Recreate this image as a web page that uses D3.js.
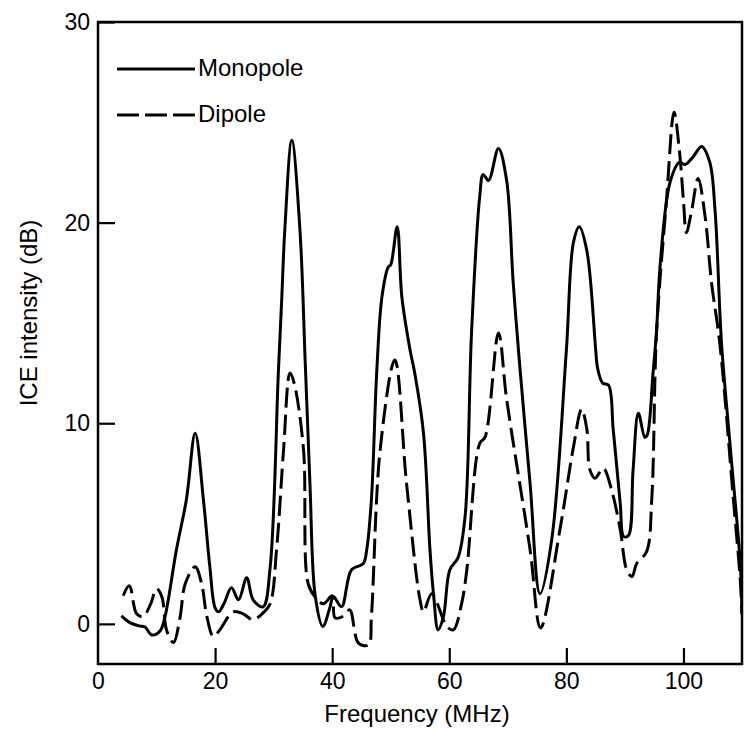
<!DOCTYPE html>
<html>
<head>
<meta charset="utf-8">
<script src="https://cdn.jsdelivr.net/npm/d3@7"></script>
<style>
  html, body { margin: 0; padding: 0; background: #fff; }
  svg { display: block; }
  text { font-family: "Liberation Sans", Arial, Helvetica, sans-serif; fill: #000; }
</style>
</head>
<body>
<svg id="chart" width="749" height="729"></svg>
<script>
// ---- data ----
const monopoleFreq = [4.0, 5.5, 7.0, 8.0, 9.2, 10.6, 11.4, 13.4, 15.1, 16.6, 18.0, 19.1, 20.0, 20.6, 21.5, 22.8, 24.0, 25.4, 26.5, 28.2, 29.4, 30.8, 31.4, 31.9, 33.1, 34.5, 35.4, 36.2, 37.1, 38.4, 39.6, 40.2, 41.6, 43.3, 45.3, 45.9, 46.7, 47.6, 48.5, 49.6, 50.0, 51.1, 51.9, 53.3, 54.1, 55.6, 56.7, 57.3, 58.1, 59.0, 60.1, 61.5, 62.7, 63.8, 65.2, 65.8, 66.7, 68.4, 69.8, 70.9, 72.0, 73.8, 75.5, 77.5, 80.0, 81.2, 82.2, 83.5, 85.0, 85.3, 86.2, 87.2, 88.0, 89.2, 89.8, 90.6, 91.4, 92.3, 93.4, 93.8, 94.8, 95.4, 96.0, 97.7, 99.3, 100.3, 101.7, 103.1, 104.5, 105.4, 106.5, 108.0, 109.7, 110.0];
const monopoleDb   = [0.4, 0.05, -0.1, -0.15, -0.55, -0.35, 0.3, 3.7, 6.2, 9.5, 6.2, 2.85, 0.8, 0.6, 1.0, 1.8, 1.2, 2.3, 1.2, 0.85, 2.8, 12.5, 16.3, 19.6, 24.1, 19.6, 13.0, 7.0, 1.4, -0.13, 0.8, 1.36, 0.86, 2.7, 3.0, 3.7, 6.2, 12.5, 16.3, 17.8, 17.9, 19.8, 16.3, 13.65, 12.5, 9.5, 3.7, 1.5, -0.3, 0.36, 2.7, 3.3, 5.35, 14.5, 21.3, 22.4, 22.1, 23.7, 22.1, 17.1, 13.0, 7.0, 1.5, 4.2, 13.65, 19.0, 19.8, 18.6, 13.7, 12.8, 12.0, 11.9, 9.7, 6.0, 4.35, 4.4, 7.7, 10.5, 9.3, 9.4, 12.5, 14.6, 17.8, 22.0, 23.0, 22.9, 23.3, 23.8, 23.0, 20.6, 14.0, 8.8, 3.0, 0.5];

const dipoleFreq = [4.3, 5.35, 6.6, 7.7, 9.0, 10.0, 10.9, 11.7, 12.9, 14.0, 14.9, 16.6, 17.7, 18.6, 19.7, 20.8, 23.1, 24.8, 26.5, 28.2, 29.4, 30.5, 31.7, 32.8, 33.5, 35.1, 35.9, 37.2, 38.5, 40.0, 40.5, 42.0, 43.0, 44.5, 46.2, 46.7, 48.2, 50.7, 52.7, 55.0, 55.6, 57.0, 59.6, 60.7, 62.1, 63.0, 65.2, 66.1, 68.4, 69.8, 73.8, 75.6, 78.9, 81.2, 82.6, 83.5, 84.0, 84.9, 86.3, 87.7, 89.2, 90.3, 91.2, 92.0, 93.7, 94.6, 95.4, 97.1, 98.4, 99.3, 100.0, 100.5, 101.4, 102.5, 103.7, 104.8, 106.2, 108.5, 109.7, 110.0];
const dipoleDb   = [1.4, 1.9, 0.5, 0.36, 1.0, 1.75, 1.36, -0.3, -0.93, 0.3, 2.0, 2.85, 2.0, 0.36, -0.63, -0.3, 0.6, 0.5, 0.2, 0.55, 1.0, 3.7, 8.7, 12.5, 12.0, 8.7, 2.0, 1.3, 1.0, 1.4, 0.3, 0.4, 0.7, -0.96, -1.05, 0.36, 8.7, 13.15, 7.0, 1.2, 0.6, 1.5, -0.13, -0.3, 1.0, 2.7, 9.0, 9.3, 14.5, 11.2, 3.7, -0.2, 4.7, 8.8, 10.7, 9.7, 7.7, 7.26, 7.76, 6.7, 4.7, 2.7, 2.36, 3.0, 3.6, 6.3, 14.5, 21.1, 25.5, 23.6, 21.1, 19.5, 20.6, 22.2, 20.3, 17.0, 14.0, 6.3, 2.2, 0.5];

const xTicks = [0, 20, 40, 60, 80, 100];
const yTicks = [0, 10, 20, 30];
const seriesNames = ["Monopole", "Dipole"];
const xTitle = "Frequency (MHz)";
const yTitle = "ICE intensity (dB)";

// ---- layout ----
const svg = d3.select("#chart");
const L = 98, R = 742, T = 22, B = 664;
const x = d3.scaleLinear().domain([0, 110]).range([L, R]);
const y = d3.scaleLinear().domain([-2, 30]).range([B, T]);

const fontSize = 23;

// frame
svg.append("rect")
  .attr("x", L).attr("y", T).attr("width", R - L).attr("height", B - T)
  .attr("fill", "none").attr("stroke", "#000").attr("stroke-width", 2.5);

// x axis
const gx = svg.append("g").attr("transform", `translate(0,${B})`)
  .call(d3.axisBottom(x).tickValues(xTicks).tickSizeInner(-16).tickSizeOuter(0).tickPadding(9).tickFormat(d3.format("d")));
gx.select(".domain").remove();
gx.selectAll(".tick line").attr("stroke", "#000").attr("stroke-width", 2.2)
  .filter(d => d === 0).remove();
gx.selectAll(".tick text").attr("font-size", fontSize).attr("font-family", null).attr("fill", "#000");

// y axis
const gy = svg.append("g").attr("transform", `translate(${L},0)`)
  .call(d3.axisLeft(y).tickValues(yTicks).tickSizeInner(-17).tickSizeOuter(0).tickPadding(8).tickFormat(d3.format("d")));
gy.select(".domain").remove();
gy.selectAll(".tick line").attr("stroke", "#000").attr("stroke-width", 2.2);
gy.selectAll(".tick text").attr("font-size", fontSize).attr("font-family", null).attr("fill", "#000");

// titles
svg.append("text").attr("x", 417).attr("y", 722).attr("text-anchor", "middle")
  .attr("font-size", 24).text(xTitle);
svg.append("text").attr("transform", "translate(37,313) rotate(-90)").attr("text-anchor", "middle")
  .attr("font-size", 24).text(yTitle);

// curves
const line = d3.line().x(d => x(d[0])).y(d => y(d[1])).curve(d3.curveCatmullRom.alpha(0.5));
const mono = monopoleFreq.map((f, i) => [f, monopoleDb[i]]);
const dip = dipoleFreq.map((f, i) => [f, dipoleDb[i]]);

const clip = svg.append("clipPath").attr("id", "plotclip")
  .append("rect").attr("x", L).attr("y", T).attr("width", R - L).attr("height", B - T);

const gPlot = svg.append("g").attr("clip-path", "url(#plotclip)");
gPlot.append("path").datum(dip).attr("d", line)
  .attr("fill", "none").attr("stroke", "#000").attr("stroke-width", 3)
  .attr("stroke-dasharray", "20,7").attr("stroke-linejoin", "round");
gPlot.append("path").datum(mono).attr("d", line)
  .attr("fill", "none").attr("stroke", "#000").attr("stroke-width", 3)
  .attr("stroke-linejoin", "round");

// legend
const legend = svg.append("g");
const legY = [69, 115];
const dashes = [null, "22,6"];
seriesNames.forEach((name, i) => {
  const ln = legend.append("line").attr("x1", 117).attr("x2", 195)
    .attr("y1", legY[i]).attr("y2", legY[i])
    .attr("stroke", "#000").attr("stroke-width", 3);
  if (dashes[i]) ln.attr("stroke-dasharray", dashes[i]);
  legend.append("text").attr("x", 198).attr("y", legY[i] + 7).attr("font-size", 24).text(name);
});
</script>
</body>
</html>
